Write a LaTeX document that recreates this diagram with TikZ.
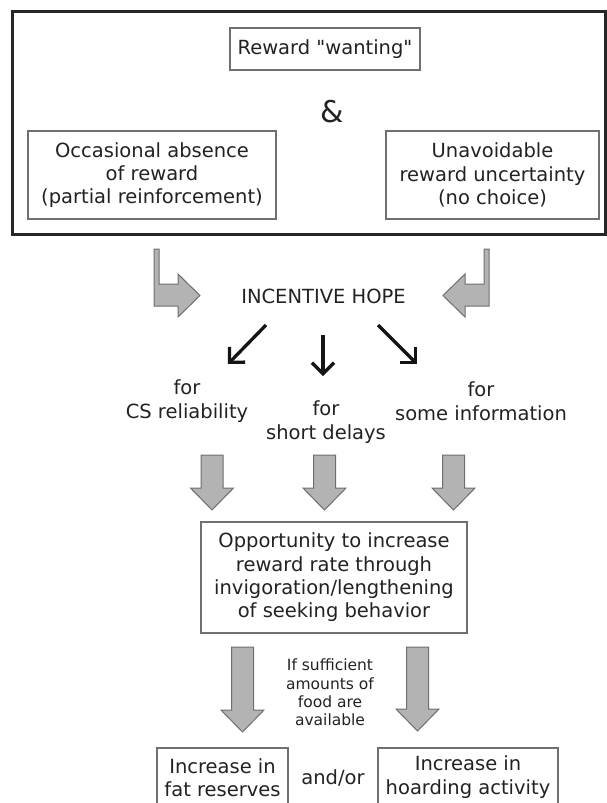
\documentclass[tikz,border=0pt]{standalone}
\usepackage{fontspec}
\setmainfont{DejaVu Sans}[Ligatures=TeXOff]
\usetikzlibrary{arrows.meta}
\definecolor{txt}{HTML}{222222}
\definecolor{arrfill}{HTML}{B3B3B3}
\definecolor{arrline}{HTML}{6E6E6E}
\definecolor{boxline}{HTML}{707070}
\newcommand{\bigfnt}{\fontsize{19.5}{23.3}\selectfont}
\newcommand{\midfnt}{\fontsize{19.5}{24.5}\selectfont}
\newcommand{\smallfnt}{\fontsize{15.5}{18.4}\selectfont}
\newcommand{\ampfnt}{\fontsize{30}{30}\selectfont}
\newcommand{\downblock}[3]{%
  \draw[blockarrow] (#1-11,#2) -- (#1+11,#2) -- (#1+11,#3-22) -- (#1+21.5,#3-22)
    -- (#1,#3) -- (#1-21.5,#3-22) -- (#1-11,#3-22) -- cycle;}
\begin{document}
\begin{tikzpicture}[x=1pt,y=-1pt,
  box/.style={draw=boxline, line width=1.3pt, fill=white, align=center, inner sep=0pt, text=txt, font=\bigfnt},
  lbl/.style={align=center, inner sep=0pt, text=txt, font=\bigfnt},
  blockarrow/.style={fill=arrfill, draw=arrline, line width=1pt, line join=miter},
  thinarrow/.style={line width=3.3pt, draw=black!92, -{Straight Barb[length=11pt,width=22pt]}}]
\useasboundingbox (0,0) rectangle (607,803);
\clip (0,0) rectangle (607,803);

% outer frame
\draw[line width=3pt, draw=black!85] (12,11) rectangle (605,234);

\node[box, minimum width=190pt, minimum height=42pt] (want) at (325,49) {Reward "wanting"};
\node[lbl, font=\ampfnt] (amp) at (332,112) {\&};
\node[box, minimum width=248pt, minimum height=88pt] (absence) at (152,175) {Occasional absence\\of reward\\(partial reinforcement)};
\node[box, minimum width=213pt, minimum height=88pt] (uncert) at (492.5,175) {Unavoidable\\reward uncertainty\\(no choice)};

% bent arrows
\draw[blockarrow] (154,249) -- (159,249) -- (159,284) -- (178,284) -- (178,274) -- (200,295.5)
  -- (178,317) -- (178,306) -- (154,306) -- cycle;
\draw[blockarrow] (489,249) -- (484,249) -- (484,284) -- (465,284) -- (465,274) -- (443,295.5)
  -- (465,317) -- (465,306) -- (489,306) -- cycle;

\node[lbl] (hope) at (323.5,296) {INCENTIVE HOPE};

% thin black arrows
\coordinate (l1) at (266,325); \coordinate (l2) at (228,364);
\coordinate (m1) at (323,335); \coordinate (m2) at (323,376);
\coordinate (r1) at (378,325); \coordinate (r2) at (417,364);
\draw[thinarrow] (l1) -- (l2);
\draw[thinarrow] (m1) -- (m2);
\draw[thinarrow] (r1) -- (r2);

\node[lbl, font=\midfnt] (cs) at (187,401) {for\\CS reliability};
\node[lbl, font=\midfnt] (delay) at (326,422) {for\\short delays};
\node[lbl, font=\midfnt] (info) at (481,401) {for\\some information};

% block arrows down
\downblock{212}{455}{510}
\downblock{324.5}{455}{510}
\downblock{453.5}{455}{510}

\node[box, minimum width=266pt, minimum height=111pt] (opp) at (334,577.5) {Opportunity to increase\\reward rate through\\invigoration/lengthening\\of seeking behavior};

\downblock{242.5}{647}{732}
\downblock{417.5}{647}{731}

\node[lbl, font=\smallfnt] (cond) at (330,692.5) {If sufficient\\amounts of\\food are\\available};

\node[box, minimum width=131pt, minimum height=67pt] (fat) at (222.5,781.5) {};
\node[box, minimum width=180pt, minimum height=67pt] (hoard) at (468,781.5) {};
\node[lbl] (fattxt) at (222.5,778) {Increase in\\fat reserves};
\node[lbl] (hoardtxt) at (468,777) {Increase in\\hoarding activity};
\node[lbl] (andor) at (333,778) {and/or};
\end{tikzpicture}
\end{document}
